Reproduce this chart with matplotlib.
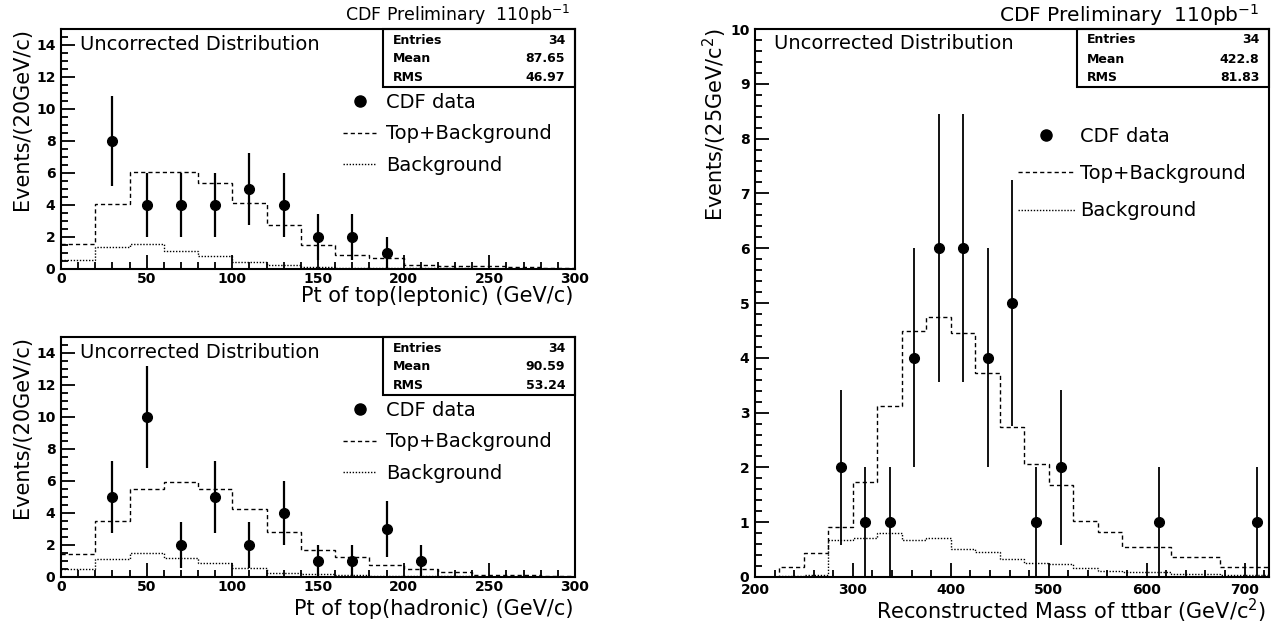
import numpy as np
import matplotlib
matplotlib.use("Agg")
import matplotlib.pyplot as plt
from matplotlib.lines import Line2D
from matplotlib.patches import Rectangle

# ---------------- data ----------------
pt_edges = [0, 20, 40, 60, 80, 100, 120, 140, 160, 180, 200, 220, 240, 260, 280, 300]
pt_centers = [30, 50, 70, 90, 110, 130, 150, 170, 190, 210]

lep_data = [8, 4, 4, 4, 5, 4, 2, 2, 1]
lep_err = [2.83, 2.0, 2.0, 2.0, 2.24, 2.0, 1.41, 1.41, 1.0]
lep_topbkg = [1.59, 4.04, 6.09, 6.09, 5.40, 4.10, 2.74, 1.48, 0.86, 0.68, 0.28, 0.21, 0.17, 0.12, 0.08]
lep_bkg = [0.59, 1.38, 1.59, 1.13, 0.80, 0.44, 0.27, 0.13, 0.08, 0.06, 0.05, 0.04, 0.03, 0.02, 0.02]
lep_stats = ["34", "87.65", "46.97"]

had_data = [5, 10, 2, 5, 2, 4, 1, 1, 3, 1]
had_err = [2.24, 3.16, 1.41, 2.24, 1.41, 2.0, 1.0, 1.0, 1.73, 1.0]
had_topbkg = [1.42, 3.51, 5.50, 5.91, 5.50, 4.22, 2.82, 1.71, 1.25, 0.76, 0.50, 0.29, 0.12, 0.10, 0.08]
had_bkg = [0.52, 1.15, 1.50, 1.19, 0.90, 0.56, 0.27, 0.17, 0.10, 0.07, 0.05, 0.04, 0.03, 0.02, 0.02]
had_stats = ["34", "90.59", "53.24"]

m_edges = [200, 225, 250, 275, 300, 325, 350, 375, 400, 425, 450, 475, 500, 525,
           550, 575, 600, 625, 650, 675, 700, 725]
m_x = [287.5, 312.5, 337.5, 362.5, 387.5, 412.5, 437.5, 462.5, 487.5, 512.5, 612.5, 712.5]
m_data = [2, 1, 1, 4, 6, 6, 4, 5, 1, 2, 1, 1]
m_err = [1.41, 1.0, 1.0, 2.0, 2.45, 2.45, 2.0, 2.24, 1.0, 1.41, 1.0, 1.0]
m_topbkg = [0.0, 0.19, 0.43, 0.91, 1.73, 3.12, 4.49, 4.75, 4.46, 3.73, 2.73, 2.07, 1.68,
            1.02, 0.82, 0.55, 0.55, 0.36, 0.36, 0.18, 0.18]
m_bkg = [0.0, 0.02, 0.03, 0.68, 0.71, 0.80, 0.68, 0.71, 0.51, 0.45, 0.33, 0.26, 0.24,
         0.17, 0.11, 0.09, 0.09, 0.06, 0.05, 0.04, 0.03]
m_stats = ["34", "422.8", "81.83"]

stat_names = ["Entries", "Mean", "RMS"]
legend_labels = ["CDF data", "Top+Background", "Background"]

# ---------------- figure ----------------
W, H = 1278, 629
fig = plt.figure(figsize=(W / 100, H / 100), dpi=100)
plt.rcParams['font.family'] = ['DejaVu Sans']


def rect(l, t, r, b):
    return [l / W, (H - b) / H, (r - l) / W, (b - t) / H]


def px(x, y):
    return x / W, (H - y) / H


DASH = (0, (3, 2.2))
DOT = (0, (1, 1.2))
HLW = 1.0
TXT = 14
LAB = 15
MS = 7


def style_axes(ax, xmaj, xmin, ymaj, ymin, xpad=2.5):
    for s in ax.spines.values():
        s.set_linewidth(1.5)
    ax.xaxis.set_major_locator(plt.MultipleLocator(xmaj))
    ax.xaxis.set_minor_locator(plt.MultipleLocator(xmin))
    ax.yaxis.set_major_locator(plt.MultipleLocator(ymaj))
    ax.yaxis.set_minor_locator(plt.MultipleLocator(ymin))
    ax.tick_params(which='both', direction='in', top=False, right=False, width=1.3)
    ax.tick_params(axis='x', which='major', length=10, labelsize=10, pad=xpad)
    ax.tick_params(axis='y', which='major', length=10, labelsize=10, pad=4)
    ax.tick_params(which='minor', length=5)
    for lab in ax.get_xticklabels() + ax.get_yticklabels():
        lab.set_fontweight('bold')


def stats_box(ax, vals, ybot, rows_y):
    ax.add_patch(Rectangle((0.626, ybot), 0.374, 1 - ybot, transform=ax.transAxes,
                           fill=False, lw=1.5, clip_on=False, zorder=5))
    for name, v, yy in zip(stat_names, vals, rows_y):
        ax.text(0.646, yy, name, transform=ax.transAxes, fontsize=9, fontweight='bold',
                ha='left', va='center')
        ax.text(0.981, yy, v, transform=ax.transAxes, fontsize=9, fontweight='bold',
                ha='right', va='center')


def legend(ax, x, y, hl, sp, tp):
    handles = [Line2D([], [], ls='none', marker='o', color='black', ms=MS + 1),
               Line2D([], [], ls=DASH, color='black', lw=HLW),
               Line2D([], [], ls=DOT, color='black', lw=HLW)]
    ax.legend(handles, legend_labels, loc='upper left', bbox_to_anchor=(x, y),
              frameon=False, fontsize=TXT, borderpad=0, borderaxespad=0,
              handlelength=hl, handletextpad=tp, labelspacing=sp, numpoints=1)


def pt_panel(box, data, err, topbkg, bkg, stats, xlabel, xl_y, header):
    ax = fig.add_axes(rect(*box))
    ax.stairs(topbkg, pt_edges, baseline=None, color='black', lw=HLW, ls=DASH)
    ax.stairs(bkg, pt_edges, baseline=None, color='black', lw=HLW, ls=DOT)
    ax.errorbar(pt_centers[:len(data)], data, yerr=err, fmt='o', color='black',
                ms=MS, elinewidth=1.6, capsize=0, zorder=4)
    ax.set_xlim(0, 300)
    ax.set_ylim(0, 15)
    style_axes(ax, 50, 10, 2, 0.5)
    ax.text(0.037, 0.935, "Uncorrected Distribution", transform=ax.transAxes,
            fontsize=TXT, ha='left', va='center')
    stats_box(ax, stats, 0.758, [0.954, 0.875, 0.796])
    legend(ax, 0.549, 0.735, 1.7, 0.66, 0.5)
    l, t, r, b = box
    fig.text(*px(22, t - 1), "Events/(20GeV/c)", rotation=90, ha='center', va='top',
             fontsize=LAB)
    fig.text(*px(r - 2, xl_y), xlabel, ha='right', va='center', fontsize=LAB)
    if header:
        fig.text(*px(r - 5, 15), "CDF Preliminary  110pb$^{-1}$", ha='right',
                 va='center', fontsize=12.5)
    return ax


pt_panel((61, 29, 575, 269), lep_data, lep_err, lep_topbkg, lep_bkg, lep_stats,
         "Pt of top(leptonic) (GeV/c)", 296, True)
pt_panel((61, 337, 575, 577), had_data, had_err, had_topbkg, had_bkg, had_stats,
         "Pt of top(hadronic) (GeV/c)", 609, False)

# right panel
box = (755, 29, 1269, 577)
ax = fig.add_axes(rect(*box))
ax.stairs(m_topbkg, m_edges, baseline=None, color='black', lw=HLW, ls=DASH)
ax.stairs(m_bkg, m_edges, baseline=None, color='black', lw=HLW, ls=DOT)
ax.errorbar(m_x, m_data, yerr=m_err, fmt='o', color='black', ms=MS, elinewidth=1.3,
            capsize=0, zorder=4)
ax.set_xlim(200, 725)
ax.set_ylim(0, 10)
style_axes(ax, 100, 20, 1, 0.2, xpad=4.5)
ax.text(0.037, 0.974, "Uncorrected Distribution", transform=ax.transAxes,
        fontsize=TXT, ha='left', va='center')
stats_box(ax, m_stats, 0.894, [0.980, 0.945, 0.911])
legend(ax, 0.512, 0.822, 2.9, 0.95, 0.3)
fig.text(*px(715, 28), "Events/(25GeV/c$^{2}$)", rotation=90, ha='center', va='top',
         fontsize=LAB)
fig.text(*px(1266, 611), "Reconstructed Mass of ttbar (GeV/c$^{2}$)", ha='right',
         va='center', fontsize=LAB)
fig.text(*px(1259, 15), "CDF Preliminary  110pb$^{-1}$", ha='right', va='center',
         fontsize=14.5)

fig.savefig("out.png", dpi=100)
